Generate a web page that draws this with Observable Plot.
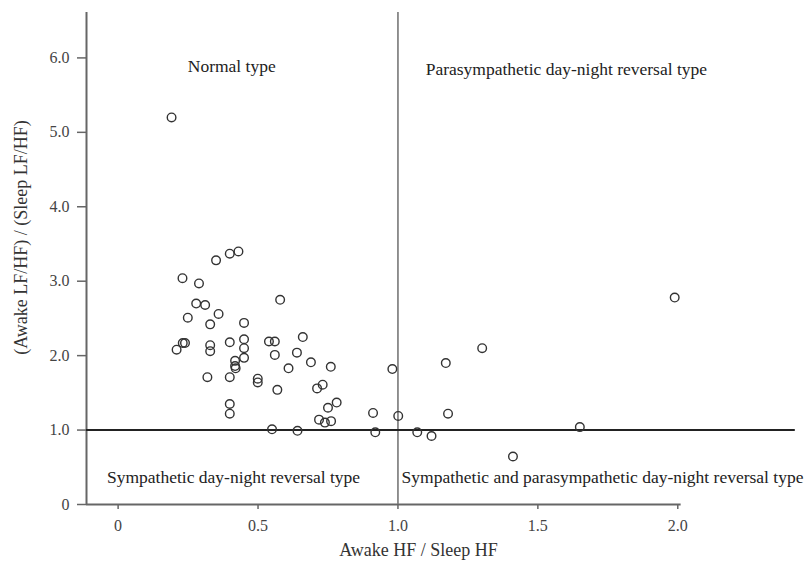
<!DOCTYPE html>
<html>
<head>
<meta charset="utf-8">
<script src="https://cdn.jsdelivr.net/npm/d3@7"></script>
<script src="https://cdn.jsdelivr.net/npm/@observablehq/plot@0.6"></script>
<style>
  html, body { margin: 0; padding: 0; background: #fff; }
  #chart { width: 806px; height: 563px; }
</style>
</head>
<body>
<div id="chart"></div>
<script>
// Awake HF / Sleep HF
const hfRatio = [0.191,0.350,0.399,0.430,0.230,0.289,0.279,0.311,0.359,0.249,0.329,0.450,0.579,0.231,0.239,0.209,0.329,0.329,0.399,0.450,0.450,0.450,0.418,0.418,0.420,0.539,0.560,0.660,0.560,0.639,0.609,0.689,0.760,0.319,0.399,0.499,0.499,0.569,0.711,0.731,0.781,0.750,0.399,0.399,0.718,0.739,0.761,0.550,0.641,0.911,0.980,1.001,0.919,1.069,1.120,1.171,1.179,1.301,1.650,1.411,1.989];
// (Awake LF/HF) / (Sleep LF/HF)
const lfhfRatio = [5.20,3.28,3.37,3.40,3.04,2.97,2.70,2.68,2.56,2.51,2.42,2.44,2.75,2.17,2.17,2.08,2.14,2.06,2.18,2.22,2.10,1.97,1.93,1.86,1.83,2.19,2.19,2.25,2.01,2.04,1.83,1.91,1.85,1.71,1.71,1.69,1.64,1.54,1.56,1.61,1.37,1.30,1.35,1.22,1.14,1.10,1.12,1.01,0.99,1.23,1.82,1.19,0.97,0.97,0.92,1.90,1.22,2.10,1.04,0.645,2.78];

const xTicks = [0, 0.5, 1.0, 1.5, 2.0];
const yTicks = [0, 1, 2, 3, 4, 5, 6];
const xLabel = "Awake HF / Sleep HF";
const yLabel = "(Awake LF/HF) / (Sleep LF/HF)";

const regionNames = ["Normal type", "Parasympathetic day-night reversal type", "Sympathetic day-night reversal type", "Sympathetic and parasympathetic day-night reversal type"];
const regionX = [0.406, 1.099, -0.04, 1.013];
const regionY = [5.88, 5.84, 0.37, 0.37];
const regionAnchor = ["middle", "start", "start", "start"];

const threshold = 1.0;
const xMin = -0.113, xMax = 2.46, xAxisEnd = 2.012, hLineEnd = 2.42;
const yMin = 0, yMax = 6.61;

const points = hfRatio.map((x, i) => ({x, y: lfhfRatio[i]}));
const regions = regionNames.map((t, i) => ({t, x: regionX[i], y: regionY[i], a: regionAnchor[i]}));
const fmt = d => d === 0 ? "0" : d.toFixed(1);

const axisColor = "#666";
const font = "'Liberation Serif', 'Times New Roman', serif";

const plot = Plot.plot({
  width: 806,
  height: 563,
  marginLeft: 86,
  marginRight: 0,
  marginTop: 12,
  marginBottom: 59,
  style: {fontFamily: font, fontSize: "16px", color: "#333", background: "#fff"},
  x: {domain: [xMin, xMax], ticks: xTicks, tickFormat: fmt},
  y: {domain: [yMin, yMax], ticks: yTicks, tickFormat: fmt},
  marks: [
    Plot.axisX({ticks: xTicks, tickFormat: fmt, tickSize: 5, tickPadding: 10, stroke: axisColor, strokeWidth: 1.5, fill: "#444", fontSize: 16, label: null}),
    Plot.axisY({ticks: yTicks, tickFormat: fmt, tickSize: 9, tickPadding: 8, stroke: axisColor, strokeWidth: 1.5, fill: "#444", fontSize: 16, label: null}),
    // axis lines
    Plot.ruleX([xMin], {y1: yMin, y2: yMax, stroke: axisColor, strokeWidth: 2}),
    Plot.ruleY([yMin], {x1: xMin, x2: xAxisEnd, stroke: axisColor, strokeWidth: 2}),
    // threshold lines
    Plot.ruleX([threshold], {y1: yMin, y2: yMax, stroke: "#777", strokeWidth: 1.6}),
    Plot.ruleY([threshold], {x1: xMin, x2: hLineEnd, stroke: "#222", strokeWidth: 2}),
    // points
    Plot.dot(points, {x: "x", y: "y", r: 4.3, stroke: "#333", strokeWidth: 1.4, fill: "none"}),
    // region labels
    Plot.text(regions.filter(d => d.a === "middle"), {x: "x", y: "y", text: "t", textAnchor: "middle", fontSize: 17.5, fill: "#222"}),
    Plot.text(regions.filter(d => d.a === "start"), {x: "x", y: "y", text: "t", textAnchor: "start", fontSize: 17.5, fill: "#222"}),
    // axis titles
    Plot.text([xLabel], {frameAnchor: "bottom", textAnchor: "middle", dx: -28, dy: 51, fontSize: 18, fill: "#333"}),
    Plot.text([yLabel], {frameAnchor: "left", textAnchor: "middle", lineAnchor: "middle", dx: -65, dy: -21, rotate: -90, fontSize: 18, fill: "#333"})
  ]
});
document.getElementById("chart").appendChild(plot);
</script>
</body>
</html>
